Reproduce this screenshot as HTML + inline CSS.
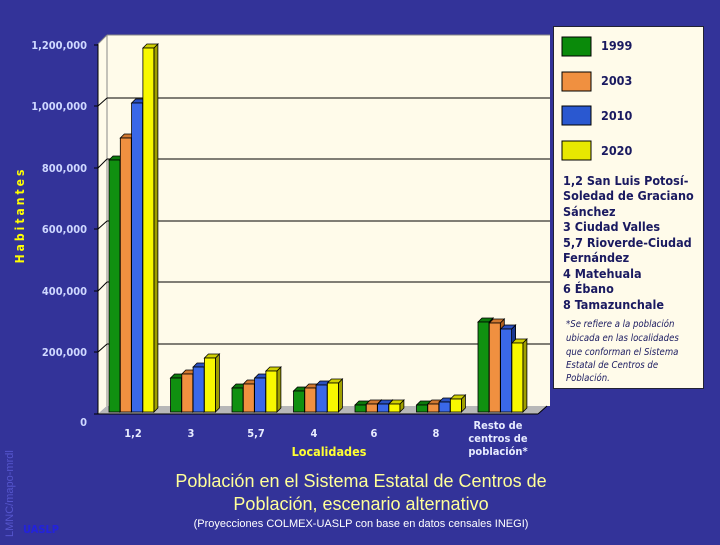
<!DOCTYPE html>
<html><head><meta charset="utf-8"><style>
body{margin:0;width:720px;height:540px;overflow:hidden;background:#333399}
.c{font-family:"DejaVu Sans Condensed","DejaVu Sans",sans-serif;font-weight:bold}
.g0{fill:#109010}.g1{fill:#0a600a}.g2{fill:#0c7a0c}
.o0{fill:#f09040}.o1{fill:#b06020}.o2{fill:#d07830}
.b0{fill:#3a68e8}.b1{fill:#1a3890}.b2{fill:#2a50c0}
.y0{fill:#f8f800}.y1{fill:#a0a000}.y2{fill:#d0d000}
</style></head><body>
<svg width="720" height="540" xmlns="http://www.w3.org/2000/svg">
<rect width="720" height="540" fill="#333399"/>
<polygon points="98,44 107,35 550,35 550,406 107,406 98,414" fill="#fffbea"/>
<polygon points="98,414 107,406 547,406 538,414" fill="#b8b8b8"/>
<line x1="98" y1="44" x2="98" y2="414" stroke="#000"/>
<line x1="98" y1="44" x2="107" y2="35" stroke="#888"/>
<line x1="107" y1="35" x2="550" y2="35" stroke="#888"/>
<line x1="107" y1="35" x2="107" y2="406" stroke="#888"/>
<g stroke="#000" stroke-width="1">
<line x1="98" y1="352" x2="107" y2="344"/><line x1="107" y1="344" x2="550" y2="344"/>
<line x1="98" y1="291" x2="107" y2="282"/><line x1="107" y1="282" x2="550" y2="282"/>
<line x1="98" y1="229" x2="107" y2="221"/><line x1="107" y1="221" x2="550" y2="221"/>
<line x1="98" y1="168" x2="107" y2="159"/><line x1="107" y1="159" x2="550" y2="159"/>
<line x1="98" y1="106" x2="107" y2="98"/><line x1="107" y1="98" x2="550" y2="98"/>
<line x1="98" y1="414" x2="538" y2="414"/>
<line x1="538" y1="414" x2="547" y2="406"/>
<line x1="94" y1="45" x2="98" y2="45"/><line x1="94" y1="106" x2="98" y2="106"/><line x1="94" y1="168" x2="98" y2="168"/><line x1="94" y1="229" x2="98" y2="229"/><line x1="94" y1="291" x2="98" y2="291"/><line x1="94" y1="352" x2="98" y2="352"/><line x1="94" y1="414" x2="98" y2="414"/>
</g>
<g class="c" fill="#cfd8ff" font-size="11" text-anchor="end">
<text x="87" y="49">1,200,000</text><text x="87" y="110">1,000,000</text><text x="87" y="172">800,000</text><text x="87" y="233">600,000</text><text x="87" y="295">400,000</text><text x="87" y="356">200,000</text><text x="87" y="426">0</text>
</g>
<g class="c" fill="#e8ecff" font-size="11" text-anchor="middle">
<text x="133" y="437">1,2</text><text x="191" y="437">3</text><text x="256" y="437">5,7</text><text x="314" y="437">4</text><text x="374" y="437">6</text><text x="436" y="437">8</text>
<text x="498" y="429">Resto de</text><text x="498" y="442">centros de</text><text x="498" y="455">población*</text>
</g>
<text class="c" x="329" y="456" fill="#ffff33" font-size="12.5" text-anchor="middle">Localidades</text>
<text class="c" transform="translate(24,215) rotate(-90)" fill="#ffff00" font-size="12" text-anchor="middle" letter-spacing="3">Habitantes</text>

<g stroke="#000" stroke-width="0.8">
<!-- g0 -->
<g transform="translate(109,0)"><polygon class="g1" points="11,160 15,156 15,408 11,412"/><polygon class="g2" points="0,160 4,156 15,156 11,160"/><rect class="g0" x="0" y="160" width="11" height="252"/></g>
<g transform="translate(120.3,0)"><polygon class="o1" points="11,138 15,134 15,408 11,412"/><polygon class="o2" points="0,138 4,134 15,134 11,138"/><rect class="o0" x="0" y="138" width="11" height="274"/></g>
<g transform="translate(131.6,0)"><polygon class="b1" points="11,103 15,99 15,408 11,412"/><polygon class="b2" points="0,103 4,99 15,99 11,103"/><rect class="b0" x="0" y="103" width="11" height="309"/></g>
<g transform="translate(142.9,0)"><polygon class="y1" points="11,48 15,44 15,408 11,412"/><polygon class="y2" points="0,48 4,44 15,44 11,48"/><rect class="y0" x="0" y="48" width="11" height="364"/></g>
<!-- g1 -->
<g transform="translate(170.5,0)"><polygon class="g1" points="11,378 15,374 15,408 11,412"/><polygon class="g2" points="0,378 4,374 15,374 11,378"/><rect class="g0" x="0" y="378" width="11" height="34"/></g>
<g transform="translate(181.8,0)"><polygon class="o1" points="11,374 15,370 15,408 11,412"/><polygon class="o2" points="0,374 4,370 15,370 11,374"/><rect class="o0" x="0" y="374" width="11" height="38"/></g>
<g transform="translate(193.1,0)"><polygon class="b1" points="11,367 15,363 15,408 11,412"/><polygon class="b2" points="0,367 4,363 15,363 11,367"/><rect class="b0" x="0" y="367" width="11" height="45"/></g>
<g transform="translate(204.4,0)"><polygon class="y1" points="11,358 15,354 15,408 11,412"/><polygon class="y2" points="0,358 4,354 15,354 11,358"/><rect class="y0" x="0" y="358" width="11" height="54"/></g>
<!-- g2 -->
<g transform="translate(232,0)"><polygon class="g1" points="11,388 15,384 15,408 11,412"/><polygon class="g2" points="0,388 4,384 15,384 11,388"/><rect class="g0" x="0" y="388" width="11" height="24"/></g>
<g transform="translate(243.3,0)"><polygon class="o1" points="11,384 15,380 15,408 11,412"/><polygon class="o2" points="0,384 4,380 15,380 11,384"/><rect class="o0" x="0" y="384" width="11" height="28"/></g>
<g transform="translate(254.6,0)"><polygon class="b1" points="11,378 15,374 15,408 11,412"/><polygon class="b2" points="0,378 4,374 15,374 11,378"/><rect class="b0" x="0" y="378" width="11" height="34"/></g>
<g transform="translate(265.9,0)"><polygon class="y1" points="11,371 15,367 15,408 11,412"/><polygon class="y2" points="0,371 4,367 15,367 11,371"/><rect class="y0" x="0" y="371" width="11" height="41"/></g>
<!-- g3 -->
<g transform="translate(293.5,0)"><polygon class="g1" points="11,391 15,387 15,408 11,412"/><polygon class="g2" points="0,391 4,387 15,387 11,391"/><rect class="g0" x="0" y="391" width="11" height="21"/></g>
<g transform="translate(304.8,0)"><polygon class="o1" points="11,388 15,384 15,408 11,412"/><polygon class="o2" points="0,388 4,384 15,384 11,388"/><rect class="o0" x="0" y="388" width="11" height="24"/></g>
<g transform="translate(316.1,0)"><polygon class="b1" points="11,385 15,381 15,408 11,412"/><polygon class="b2" points="0,385 4,381 15,381 11,385"/><rect class="b0" x="0" y="385" width="11" height="27"/></g>
<g transform="translate(327.4,0)"><polygon class="y1" points="11,383 15,379 15,408 11,412"/><polygon class="y2" points="0,383 4,379 15,379 11,383"/><rect class="y0" x="0" y="383" width="11" height="29"/></g>
<!-- g4 -->
<g transform="translate(355,0)"><polygon class="g1" points="11,405 15,401 15,408 11,412"/><polygon class="g2" points="0,405 4,401 15,401 11,405"/><rect class="g0" x="0" y="405" width="11" height="7"/></g>
<g transform="translate(366.3,0)"><polygon class="o1" points="11,404 15,400 15,408 11,412"/><polygon class="o2" points="0,404 4,400 15,400 11,404"/><rect class="o0" x="0" y="404" width="11" height="8"/></g>
<g transform="translate(377.6,0)"><polygon class="b1" points="11,404 15,400 15,408 11,412"/><polygon class="b2" points="0,404 4,400 15,400 11,404"/><rect class="b0" x="0" y="404" width="11" height="8"/></g>
<g transform="translate(388.9,0)"><polygon class="y1" points="11,404 15,400 15,408 11,412"/><polygon class="y2" points="0,404 4,400 15,400 11,404"/><rect class="y0" x="0" y="404" width="11" height="8"/></g>
<!-- g5 -->
<g transform="translate(416.5,0)"><polygon class="g1" points="11,405 15,401 15,408 11,412"/><polygon class="g2" points="0,405 4,401 15,401 11,405"/><rect class="g0" x="0" y="405" width="11" height="7"/></g>
<g transform="translate(427.8,0)"><polygon class="o1" points="11,404 15,400 15,408 11,412"/><polygon class="o2" points="0,404 4,400 15,400 11,404"/><rect class="o0" x="0" y="404" width="11" height="8"/></g>
<g transform="translate(439.1,0)"><polygon class="b1" points="11,402 15,398 15,408 11,412"/><polygon class="b2" points="0,402 4,398 15,398 11,402"/><rect class="b0" x="0" y="402" width="11" height="10"/></g>
<g transform="translate(450.4,0)"><polygon class="y1" points="11,399 15,395 15,408 11,412"/><polygon class="y2" points="0,399 4,395 15,395 11,399"/><rect class="y0" x="0" y="399" width="11" height="13"/></g>
<!-- g6 -->
<g transform="translate(478,0)"><polygon class="g1" points="11,322 15,318 15,408 11,412"/><polygon class="g2" points="0,322 4,318 15,318 11,322"/><rect class="g0" x="0" y="322" width="11" height="90"/></g>
<g transform="translate(489.3,0)"><polygon class="o1" points="11,323 15,319 15,408 11,412"/><polygon class="o2" points="0,323 4,319 15,319 11,323"/><rect class="o0" x="0" y="323" width="11" height="89"/></g>
<g transform="translate(500.6,0)"><polygon class="b1" points="11,329 15,325 15,408 11,412"/><polygon class="b2" points="0,329 4,325 15,325 11,329"/><rect class="b0" x="0" y="329" width="11" height="83"/></g>
<g transform="translate(511.9,0)"><polygon class="y1" points="11,343 15,339 15,408 11,412"/><polygon class="y2" points="0,343 4,339 15,339 11,343"/><rect class="y0" x="0" y="343" width="11" height="69"/></g>
</g>

<rect x="553.5" y="26.5" width="150" height="362" fill="#fffbea" stroke="#223"/>
<rect x="562" y="37" width="29" height="19" fill="#0a8a0a" stroke="#000"/>
<rect x="562" y="72" width="29" height="19" fill="#f09040" stroke="#000"/>
<rect x="562" y="106" width="29" height="19" fill="#2a58d0" stroke="#000"/>
<rect x="562" y="141" width="29" height="19" fill="#e8e800" stroke="#000"/>
<g class="c" fill="#1a1a60" font-size="12.5">
<text x="601" y="50">1999</text><text x="601" y="85">2003</text><text x="601" y="120">2010</text><text x="601" y="155">2020</text>
<text x="563" y="185">1,2 San Luis Potosí-</text><text x="563" y="200">Soledad de Graciano</text><text x="563" y="216">Sánchez</text><text x="563" y="231">3 Ciudad Valles</text><text x="563" y="247">5,7 Rioverde-Ciudad</text><text x="563" y="262">Fernández</text><text x="563" y="278">4 Matehuala</text><text x="563" y="293">6 Ébano</text><text x="563" y="309">8 Tamazunchale</text>
</g>
<g fill="#1a1a60" font-family="'DejaVu Sans Condensed','DejaVu Sans',sans-serif" font-size="9.5" font-style="italic">
<text x="566" y="327">*Se refiere a la población</text><text x="566" y="341">ubicada en las localidades</text><text x="566" y="355">que conforman el Sistema</text><text x="566" y="368">Estatal de Centros de</text><text x="566" y="381">Población.</text>
</g>
<g fill="#ffff99" font-family="'Liberation Sans', sans-serif" font-size="18" text-anchor="middle">
<text x="361" y="487">Población en el Sistema Estatal de Centros de</text>
<text x="361" y="510">Población, escenario alternativo</text>
</g>
<text x="361" y="527" fill="#fff" font-family="'Liberation Sans', sans-serif" font-size="11" text-anchor="middle">(Proyecciones COLMEX-UASLP con base en datos censales INEGI)</text>
<text class="c" x="23" y="533" fill="#2222dd" font-size="11">UASLP</text>
<text transform="translate(13,537) rotate(-90)" fill="#5555cc" font-family="'Liberation Sans', sans-serif" font-size="11">LMNC/mapo-mrdl</text>
</svg>
</body></html>
